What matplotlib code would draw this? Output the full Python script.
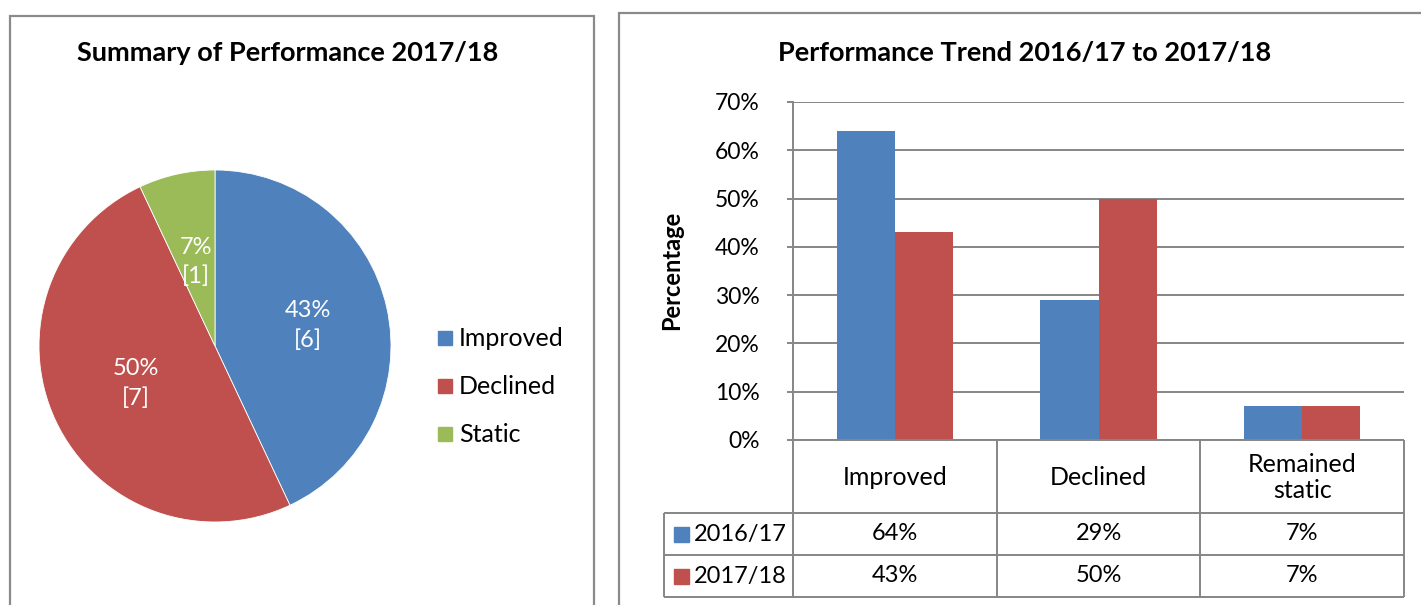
import matplotlib
matplotlib.use("Agg")
import matplotlib.pyplot as plt
from matplotlib.patches import Rectangle
import numpy as np

W, H = 1421, 605

# Summary of 2017/18 performance (share, count)
pie_labels = ["Improved", "Declined", "Static"]
pie_shares = [43, 50, 7]
pie_counts = [6, 7, 1]

# Trend between the two years
categories = ["Improved", "Declined", "Remained\nstatic"]
years = ["2016/17", "2017/18"]
trend_2016 = [0.64, 0.29, 0.07]
trend_2017 = [0.43, 0.50, 0.07]

BLUE, RED, GREEN = "#4F81BD", "#C0504D", "#9BBB59"
GRID = "#868686"
FONT = "Lato"

plt.rcParams["font.family"] = [FONT, "DejaVu Sans"]


def px_rect(x, y, w, h):
    """Pixel box (top-left origin) -> figure fraction rect."""
    return [x / W, 1 - (y + h) / H, w / W, h / H]


fig = plt.figure(figsize=(W / 100, H / 100), dpi=100)

# panel frames
for (x0, y0, x1) in [(10, 16, 594), (619, 13, 1440)]:
    fig.patches.append(Rectangle((x0 / W, -0.05), (x1 - x0) / W, 1 - y0 / H + 0.05,
                                 transform=fig.transFigure, fill=False,
                                 edgecolor="#8a8a8a", lw=1.6))

# ---- pie ----
fig.text(288 / W, 1 - 53 / H, "Summary of Performance 2017/18", ha="center",
         va="center", fontsize=19.5, fontweight="bold")

r = 176
ax1 = fig.add_axes(px_rect(215 - r, 346 - r, 2 * r, 2 * r))
wedges, _ = ax1.pie(pie_shares, colors=[BLUE, RED, GREEN], startangle=90,
                    counterclock=False, radius=1,
                    wedgeprops=dict(edgecolor="white", linewidth=0.6))
label_r = [0.54, 0.5, 0.49]
start = 90.0
for share, cnt, lr in zip(pie_shares, pie_counts, label_r):
    mid = np.deg2rad(start - share * 3.6 / 2)
    start -= share * 3.6
    ax1.text(lr * np.cos(mid), lr * np.sin(mid), f"{share}%\n[{cnt}]",
             color="white", ha="center", va="center", fontsize=17,
             linespacing=1.45)
ax1.set_xlim(-1, 1)
ax1.set_ylim(-1, 1)
ax1.set_aspect("equal")
ax1.axis("off")

# legend for the pie
for i, (lab, col) in enumerate(zip(pie_labels, [BLUE, RED, GREEN])):
    yc = 338 + i * 48
    fig.patches.append(Rectangle((438 / W, 1 - (yc + 7) / H), 14 / W, 14 / H,
                                 transform=fig.transFigure, color=col))
    fig.text(459 / W, 1 - yc / H, lab, ha="left", va="center", fontsize=18)

# ---- bars ----
fig.text(1025 / W, 1 - 53 / H, "Performance Trend 2016/17 to 2017/18",
         ha="center", va="center", fontsize=19.5, fontweight="bold")

ax2 = fig.add_axes(px_rect(793, 102, 611, 338))
x = np.arange(len(categories))
bw = 0.285
ax2.bar(x - bw / 2, trend_2016, bw, color=BLUE, zorder=3)
ax2.bar(x + bw / 2, trend_2017, bw, color=RED, zorder=3)
ax2.set_xlim(-0.5, 2.5)
ax2.set_ylim(0, 0.7)
ax2.set_yticks(np.arange(0, 0.71, 0.1))
ax2.set_yticklabels([f"{int(round(v * 100))}%" for v in np.arange(0, 0.71, 0.1)],
                    fontsize=16.5)
ax2.set_xticks([])
ax2.yaxis.grid(True, color=GRID, lw=1.4, zorder=0)
ax2.tick_params(axis="y", length=4, color=GRID, width=1.4, pad=20)
for s in ["top", "right", "bottom"]:
    ax2.spines[s].set_visible(False)
ax2.spines["left"].set_color(GRID)
ax2.spines["left"].set_linewidth(1.4)
fig.text(672 / W, 1 - 270 / H, "Percentage", rotation=90, ha="center",
         va="center", fontsize=17, fontweight="bold")

# ---- data table under the bars ----
tx0, tx_col, tx1 = 664, 793, 1404
ty_head, ty_r1, ty_r2, ty_end = 440, 513, 555, 597
col_w = (tx1 - tx_col) / len(categories)
tab = fig.add_axes(px_rect(tx0, ty_head, tx1 - tx0, ty_end - ty_head))
tab.set_xlim(tx0, tx1)
tab.set_ylim(ty_end, ty_head)
tab.axis("off")
lk = dict(color=GRID, lw=1.4, solid_capstyle="butt", clip_on=False)
tab.plot([tx_col, tx1], [ty_head, ty_head], **lk)
for yy in [ty_r1, ty_r2, ty_end]:
    tab.plot([tx0, tx1], [yy, yy], **lk)
tab.plot([tx0, tx0], [ty_r1, ty_end], **lk)
for i in range(len(categories) + 1):
    xx = tx_col + i * col_w
    tab.plot([xx, xx], [ty_head, ty_end], **lk)

for i, cat in enumerate(categories):
    tab.text(tx_col + (i + 0.5) * col_w, (ty_head + ty_r1) / 2 + 1, cat,
             ha="center", va="center", fontsize=18, linespacing=1.2)

rows = [(years[0], BLUE, trend_2016, ty_r1), (years[1], RED, trend_2017, ty_r2)]
for name, col, vals, ytop in rows:
    yc = ytop + (ty_r2 - ty_r1) / 2
    tab.add_patch(Rectangle((674, yc - 7), 15, 15, color=col, clip_on=False))
    tab.text(694, yc, name, ha="left", va="center", fontsize=17)
    for i, v in enumerate(vals):
        tab.text(tx_col + (i + 0.5) * col_w, yc, f"{int(round(v * 100))}%",
                 ha="center", va="center", fontsize=17)

fig.savefig("out.png", dpi=100)
